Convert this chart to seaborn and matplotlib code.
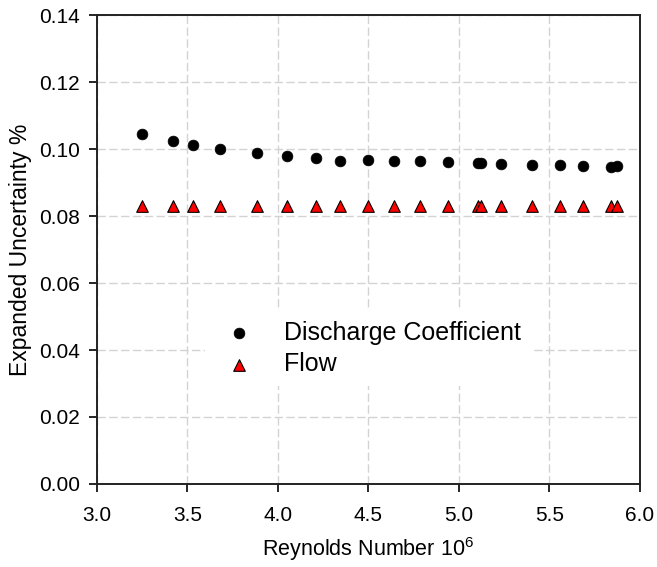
import matplotlib
matplotlib.use("Agg")
import matplotlib.pyplot as plt
import seaborn as sns
import pandas as pd

# Reynolds number (x 10^6)
reynolds = [3.249, 3.420, 3.532, 3.680, 3.884, 4.050, 4.210, 4.343, 4.499, 4.641,
            4.783, 4.938, 5.105, 5.120, 5.234, 5.405, 5.556, 5.683, 5.841, 5.873]

# Expanded uncertainty %
discharge_coeff = [0.1044, 0.1025, 0.1013, 0.1000, 0.0987, 0.0979, 0.0974, 0.0964, 0.0968, 0.0963,
                   0.0963, 0.0962, 0.0959, 0.0959, 0.0956, 0.0953, 0.0951, 0.0948, 0.0947, 0.0950]
flow = [0.0829, 0.0829, 0.0829, 0.0829, 0.0829, 0.0829, 0.0829, 0.0829, 0.0829, 0.0829,
        0.0829, 0.0829, 0.0829, 0.0829, 0.0829, 0.0829, 0.0829, 0.0829, 0.0829, 0.0829]

x_ticks = [3.0, 3.5, 4.0, 4.5, 5.0, 5.5, 6.0]
y_ticks = [0.00, 0.02, 0.04, 0.06, 0.08, 0.10, 0.12, 0.14]

data = pd.DataFrame({"Re": reynolds, "Cd": discharge_coeff, "Flow": flow})

sns.set_style("ticks")
plt.rcParams["font.family"] = ["Liberation Sans", "DejaVu Sans"]
plt.rcParams["mathtext.fontset"] = "custom"
plt.rcParams["mathtext.rm"] = "Liberation Sans"
plt.rcParams["mathtext.it"] = "Liberation Sans"
plt.rcParams["text.color"] = "black"
plt.rcParams["axes.labelcolor"] = "black"
plt.rcParams["xtick.color"] = "black"
plt.rcParams["ytick.color"] = "black"

fig = plt.figure(figsize=(6.57, 5.67), dpi=100)
ax = fig.add_axes([0.1476, 0.1464, 0.8264, 0.8271])

sns.scatterplot(x="Re", y="Cd", data=data, ax=ax, marker="o", s=60,
                color="black", edgecolor="black", linewidth=0.5,
                label="Discharge Coefficient", zorder=3)
sns.scatterplot(x="Re", y="Flow", data=data, ax=ax, marker="^", s=70,
                color="red", edgecolor="black", linewidth=0.8,
                label="Flow", zorder=3)

ax.set_xlim(3.0, 6.0)
ax.set_ylim(0.0, 0.14)
ax.set_xticks(x_ticks)
ax.set_yticks(y_ticks)
ax.set_xticklabels([f"{t:.1f}" for t in x_ticks])
ax.set_yticklabels([f"{t:.2f}" for t in y_ticks])
ax.tick_params(labelsize=15, direction="out", length=6, width=1.2,
               color="black", labelcolor="black")
ax.tick_params(axis="x", pad=10)
ax.tick_params(axis="y", pad=6.3)

ax.grid(True, color="#d3d3d3", linestyle=(0, (6, 2.5)), linewidth=1)
ax.set_axisbelow(True)

for side in ["left", "bottom", "top", "right"]:
    ax.spines[side].set_visible(True)
    ax.spines[side].set_color("#222222")
    ax.spines[side].set_linewidth(1.4)

ax.set_xlabel("Reynolds Number 10$^6$", fontsize=15.5, labelpad=7)
ax.set_ylabel("Expanded Uncertainty %", fontsize=16.5, labelpad=5)

leg = ax.legend(loc="upper left", bbox_to_anchor=(0.199, 0.369), fontsize=18,
                frameon=True, framealpha=1, facecolor="white", edgecolor="none",
                fancybox=False, borderaxespad=0, borderpad=0.4,
                handlelength=1.9, handletextpad=0.85, labelspacing=0.29)

plt.savefig("out.png", dpi=100)
